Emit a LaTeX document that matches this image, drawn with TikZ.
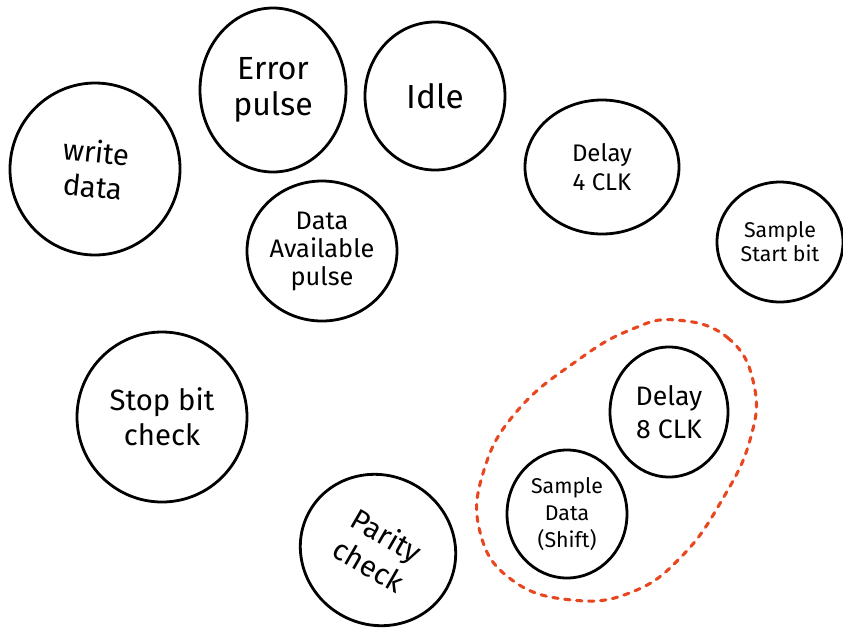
\documentclass[tikz,border=0pt]{standalone}
\usepackage{fontspec}
\setmainfont{Fira Sans}
\usetikzlibrary{shapes.geometric}
\definecolor{dotred}{RGB}{232,70,30}
\begin{document}
\begin{tikzpicture}[x=0.75pt,y=-0.75pt,
  state/.style={draw=black, line width=2.1pt, ellipse, inner sep=0pt, align=center, text=black},
  huge/.style={font=\fontsize{25}{28}\selectfont},
  big/.style={font=\fontsize{22}{26}\selectfont},
  mid/.style={font=\fontsize{18}{22}\selectfont},
  avail/.style={font=\fontsize{19}{21}\selectfont},
  small/.style={font=\fontsize{16}{20}\selectfont},
  tiny/.style={font=\fontsize{16}{18}\selectfont},
  grp/.style={draw=dotred, line width=2.3pt, line cap=round, dash pattern=on 4pt off 5pt}]
\useasboundingbox[fill=white] (0,0) rectangle (843,633);
\node[state, big, minimum width=127.5pt, minimum height=129pt, rotate=-6] (write) at (95,169) {write\\data};
\node[state, font=\fontsize{24}{27}\selectfont, minimum width=109.5pt, minimum height=123pt] (error) at (273,90) {Error\\pulse};
\node[state, huge, minimum width=105pt, minimum height=111pt] (idle) at (435,96) {Idle};
\node[state, mid, minimum width=115.5pt, minimum height=100.5pt] (delay4) at (602,167) {Delay\\4 CLK};
\node[state, tiny, minimum width=94.5pt, minimum height=90pt] (sstart) at (780,242) {Sample\\Start bit};
\node[state, avail, minimum width=112.5pt, minimum height=105pt] (avail) at (322,251) {Data\\Available\\pulse};
\node[state, big, minimum width=127.5pt, minimum height=127.5pt] (stop) at (162,417) {Stop bit\\check};
\node[state, big, minimum width=118pt, minimum height=112pt, rotate=-30] (parity) at (378,550) {Parity\\check};
\node[state, font=\fontsize{20}{25}\selectfont, minimum width=88.5pt, minimum height=97.5pt] (delay8) at (669,412) {Delay\\8 CLK};
\node[state, small, minimum width=90pt, minimum height=96pt] (sdata) at (567,514) {Sample\\Data\\(Shift)};
\draw[grp] plot[smooth cycle, tension=0.75] coordinates {
  (676,320) (728,338) (754,385) (750,440) (722,500) (682,556) (632,592)
  (572,600) (512,580) (480,532) (484,470) (518,410) (578,360) (630,330)};
\end{tikzpicture}
\end{document}
